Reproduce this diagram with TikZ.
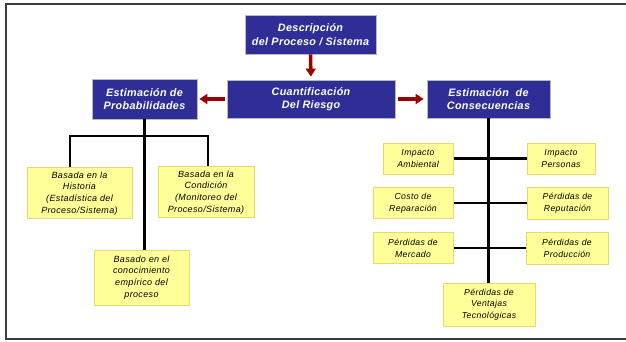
\documentclass[tikz,border=0pt]{standalone}
\usepackage{fontspec}
\setmainfont{Liberation Sans}
\newfontfamily\notefont[LetterSpace=4]{Liberation Sans}
\newfontfamily\headfont[LetterSpace=3]{Liberation Sans}
\usetikzlibrary{arrows.meta,shadows}
\definecolor{boxblue}{RGB}{46,46,150}
\definecolor{noteyellow}{RGB}{255,255,153}
\definecolor{noteedge}{RGB}{232,216,112}
\definecolor{arrowred}{RGB}{153,0,0}
\definecolor{framegray}{RGB}{60,60,60}

\tikzset{
  header/.style={fill=boxblue, draw=gray!55, line width=0.8pt, text=white,
    font=\headfont\fontsize{10.8}{13.5}\selectfont\bfseries\itshape, align=center, inner sep=0pt,
    drop shadow={shadow xshift=1.2pt, shadow yshift=-1.2pt, fill=gray!45, opacity=1}},
  note/.style={fill=noteyellow, draw=noteedge, line width=1pt, align=center, inner sep=0pt,
    font=\notefont\fontsize{9}{11.7}\selectfont\itshape},
  smallnote/.style={note, font=\notefont\fontsize{8.7}{11.7}\selectfont\itshape},
  flow/.style={arrowred, line width=3.5pt, -{Triangle[width=10pt,length=8pt]}},
  branch/.style={black, line width=2.2pt},
}

\begin{document}
\begin{tikzpicture}[x=1pt,y=-1pt]
\useasboundingbox (0,0) rectangle (626,341);

% outer frame (open on the right)
\draw[framegray, line width=1.5pt] (626,4) -- (6,4) -- (6,339) -- (626,339);

% main blocks
\node[header, minimum width=131pt, minimum height=39pt] (desc) at (310.5,34.5)
  {Descripción\\del Proceso / Sistema};
\node[header, minimum width=168pt, minimum height=38pt] (cuant) at (311,99)
  {Cuantificación\\Del Riesgo};
\node[header, minimum width=105pt, minimum height=40pt] (prob) at (144.5,99)
  {Estimación de\\Probabilidades};
\node[header, minimum width=123pt, minimum height=38pt] (cons) at (488.5,99)
  {Estimación~ de\\Consecuencias};

% probability sources
\node[note, minimum width=105pt, minimum height=51pt] (hist) at (79.5,192.5)
  {\strut Basada en la\\Historia\\(Estadística del\\Proceso/Sistema)};
\node[note, minimum width=96pt, minimum height=51pt] (cond) at (206,191.5)
  {\strut Basada en la\\Condición\\(Monitoreo del\\Proceso/Sistema)};
\node[note, minimum width=95pt, minimum height=55pt] (emp) at (141.5,277.5)
  {Basado en el\\conocimiento\\empírico del\\proceso};

% consequence types
\node[smallnote, minimum width=70pt, minimum height=31pt] (amb) at (418,158.5)
  {Impacto\\Ambiental};
\node[smallnote, minimum width=68pt, minimum height=31pt] (pers) at (561,158.5)
  {Impacto\\Personas};
\node[smallnote, minimum width=80pt, minimum height=31pt] (costo) at (413,203)
  {Costo de\\Reparación};
\node[smallnote, minimum width=81pt, minimum height=32pt] (rep) at (567.5,203)
  {Pérdidas de\\Reputación};
\node[smallnote, minimum width=80pt, minimum height=31pt] (merc) at (413,248)
  {Pérdidas de\\Mercado};
\node[smallnote, minimum width=82pt, minimum height=32pt] (prod) at (567,248)
  {Pérdidas de\\Producción};
\node[smallnote, minimum width=92pt, minimum height=43pt] (vent) at (489,304.5)
  {Pérdidas de\\Ventajas\\Tecnológicas};

% flow arrows
\draw[flow, shorten >=3pt] (desc.south) -- (cuant.north);
\draw[flow, shorten <=2pt, shorten >=2pt] (cuant.west) -- (prob.east);
\draw[flow, shorten <=3pt, shorten >=3pt] (cuant.east) -- (cons.west);

% probability tree
\coordinate (pl) at (70,136);
\coordinate (pr) at (208,136);
\draw[branch] (prob.south) -- (prob.south |- emp.north);
\draw[branch] (hist.north -| pl) -- (pl) -- (pr) -- (cond.north -| pr);

% consequence tree
\draw[branch] (cons.south) -- (cons.south |- vent.north);
\draw[branch] (amb.east) -- (pers.west);
\draw[branch] (costo.east) -- (rep.west);
\draw[branch] (merc.east) -- (prod.west);
\end{tikzpicture}
\end{document}
